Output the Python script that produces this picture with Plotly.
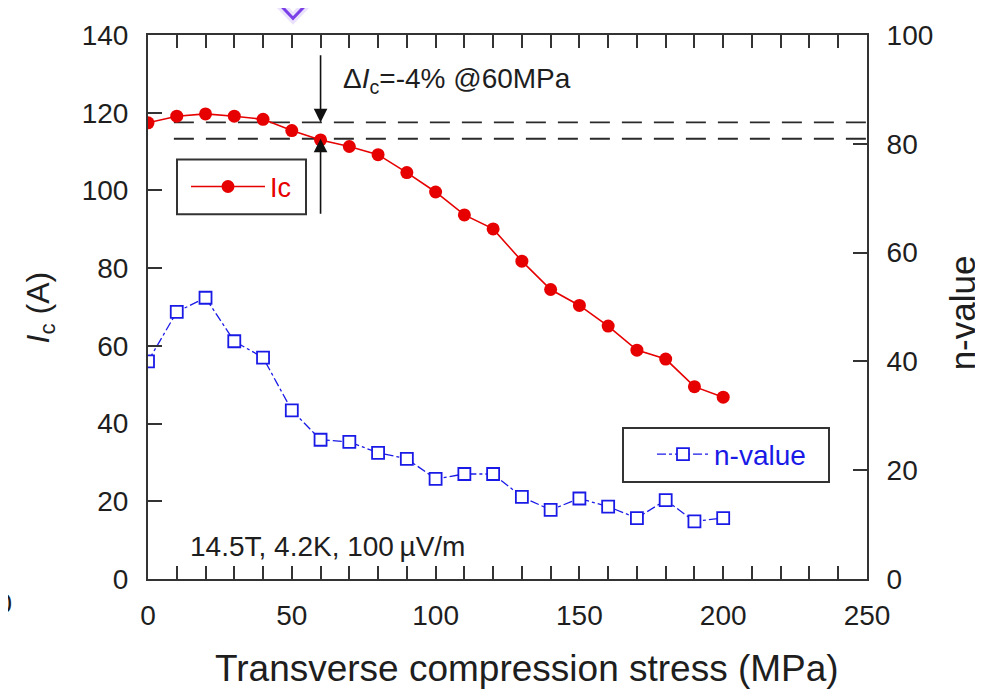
import plotly.graph_objects as go

# ---------------- data ----------------
stress = [0, 10, 20, 30, 40, 50, 60, 70, 80, 90, 100, 110, 120, 130, 140, 150, 160, 170, 180, 190, 200]
ic_values = [117.4, 119.1, 119.7, 119.1, 118.3, 115.4, 113.0, 111.3, 109.2, 104.6, 99.6,
             93.7, 90.1, 81.8, 74.5, 70.4, 65.1, 58.9, 56.6, 49.5, 46.8]
n_values = [40.0, 49.1, 51.7, 43.7, 40.7, 31.0, 25.6, 25.2, 23.2, 22.1, 18.4,
            19.3, 19.3, 15.1, 12.7, 14.8, 13.3, 11.2, 14.5, 10.6, 11.2]
x_ticks = [0, 50, 100, 150, 200, 250]
ic_ticks = [0, 20, 40, 60, 80, 100, 120, 140]
n_ticks = [0, 20, 40, 60, 80, 100]
ic_reference = 117.5      # upper dashed line (Ic at 0 MPa)
ic_at_60 = 113.3          # lower dashed line (Ic at 60 MPa)
arrow_stress = 60

RED = "#e60000"
BLUE = "#1a1ae6"
INK = "#1e1e1e"
FONT = "Liberation Sans, Arial, sans-serif"

OFF = 8                      # default body margin of the html page
W, H = 983 - OFF, 693 - OFF
PLOT_L, PLOT_R, PLOT_T, PLOT_B = 148, 867, 24, 579   # page pixels
L, R, T, B = PLOT_L - OFF, 983 - PLOT_R, PLOT_T - OFF, 693 - PLOT_B
PW, PH = PLOT_R - PLOT_L, PLOT_B - PLOT_T


def px(xp):
    return (xp - PLOT_L) / PW


def py(yp):
    return (PLOT_B - yp) / PH


fig = go.Figure()

fig.add_trace(go.Scatter(
    x=stress, y=ic_values, name="Ic", mode="lines+markers",
    line=dict(color=RED, width=1.6),
    marker=dict(symbol="circle", size=13, color=RED),
    legend="legend", yaxis="y",
))
fig.add_trace(go.Scatter(
    x=stress, y=n_values, name="n-value", mode="lines+markers",
    line=dict(color=BLUE, width=1.3, dash="dashdot"),
    marker=dict(symbol="square", size=12, color="white", line=dict(color=BLUE, width=1.8)),
    legend="legend2", yaxis="y2",
))

axis_common = dict(
    showline=True, linecolor="#333333", linewidth=2,
    ticks="inside", tickcolor="#333333", tickwidth=2,
    showgrid=False, zeroline=False,
    tickfont=dict(family=FONT, size=28, color=INK),
)

fig.update_layout(
    width=W, height=H, autosize=False,
    margin=dict(l=L, r=R, t=T, b=B),
    paper_bgcolor="white", plot_bgcolor="white",
    font=dict(family=FONT, color=INK),
    xaxis=dict(range=[0, 250], tickvals=x_ticks, ticklen=13, mirror="allticks",
               ticklabelstandoff=10,
               minor=dict(dtick=10, ticklen=8, ticks="inside", tickcolor="#333333", tickwidth=1.6),
               **axis_common),
    yaxis=dict(range=[0, 140], tickvals=ic_ticks, ticklen=14, mirror=True,
               ticklabelstandoff=12, **axis_common),
    yaxis2=dict(range=[0, 100], tickvals=n_ticks, ticklen=14, overlaying="y", side="right",
                ticklabelstandoff=12, **axis_common),
    showlegend=True,
    legend=dict(x=px(186), y=py(179), xanchor="left", yanchor="middle",
                bgcolor="rgba(0,0,0,0)", borderwidth=0, itemwidth=74,
                font=dict(family=FONT, size=27, color=RED)),
    legend2=dict(x=px(652), y=py(452), xanchor="left", yanchor="middle",
                 bgcolor="rgba(0,0,0,0)", borderwidth=0, itemwidth=52,
                 font=dict(family=FONT, size=28, color=BLUE)),
)

# dashed reference lines
for yv in (ic_reference, ic_at_60):
    fig.add_shape(type="line", xref="x", yref="y", x0=9, x1=250, y0=yv, y1=yv,
                  line=dict(color="#2a2a2a", width=1.8, dash="20px,12px"), layer="below")

# legend boxes
fig.add_shape(type="rect", xref="paper", yref="paper", x0=px(177), x1=px(306), y0=py(207), y1=py(151),
              line=dict(color="#333333", width=2))
fig.add_shape(type="rect", xref="paper", yref="paper", x0=px(623), x1=px(829), y0=py(480), y1=py(425),
              line=dict(color="#333333", width=2))

# purple marker fragment at top edge
diamond = f"M {px(279)} {py(-8)} L {px(293)} {py(7)} L {px(307)} {py(-8)}"
fig.add_shape(type="path", xref="paper", yref="paper", path=diamond,
              line=dict(color="rgba(140,90,240,0.18)", width=9))
fig.add_shape(type="path", xref="paper", yref="paper", path=diamond,
              line=dict(color="#7b3fe8", width=3))

# arrows
fig.add_annotation(x=arrow_stress, y=ic_reference, ax=arrow_stress, ay=135.2,
                   xref="x", yref="y", axref="x", ayref="y", text="", showarrow=True,
                   arrowhead=2, arrowsize=1.7, arrowwidth=1.6, arrowcolor="#111111")
fig.add_annotation(x=arrow_stress, y=ic_at_60, ax=arrow_stress, ay=93.6,
                   xref="x", yref="y", axref="x", ayref="y", text="", showarrow=True,
                   arrowhead=2, arrowsize=1.7, arrowwidth=1.6, arrowcolor="#111111")

fig.add_annotation(x=67.0, y=128.3, xref="x", yref="y", xanchor="left", yanchor="middle",
                   text="Δ<i>I</i><sub>c</sub>=-4% @60MPa", showarrow=False,
                   font=dict(family=FONT, size=28, color=INK))
fig.add_annotation(x=13.9, y=8.3, xref="x", yref="y", xanchor="left", yanchor="middle",
                   text="14.5T, 4.2K, 100\u2009µV/m", showarrow=False,
                   font=dict(family=FONT, size=28, color=INK))

# axis titles
fig.add_annotation(x=px(527), y=py(670), xref="paper", yref="paper", xanchor="center", yanchor="middle",
                   text="Transverse compression stress (MPa)", showarrow=False,
                   font=dict(family=FONT, size=37, color=INK))
fig.add_annotation(x=px(40), y=py(302), xref="paper", yref="paper", xanchor="center", yanchor="middle",
                   text="<i>I</i><sub>c</sub> (A)", textangle=-90, showarrow=False,
                   font=dict(family=FONT, size=32, color=INK))
fig.add_annotation(x=px(962), y=py(308), xref="paper", yref="paper", xanchor="center", yanchor="middle",
                   text="n-value", textangle=-90, showarrow=False,
                   font=dict(family=FONT, size=35, color=INK))

# clipped "0" at the left edge
fig.add_annotation(x=px(4), y=py(604), xref="paper", yref="paper", xanchor="center", yanchor="middle",
                   text="0", showarrow=False, font=dict(family=FONT, size=27, color=INK))

fig.write_html("out.html")
